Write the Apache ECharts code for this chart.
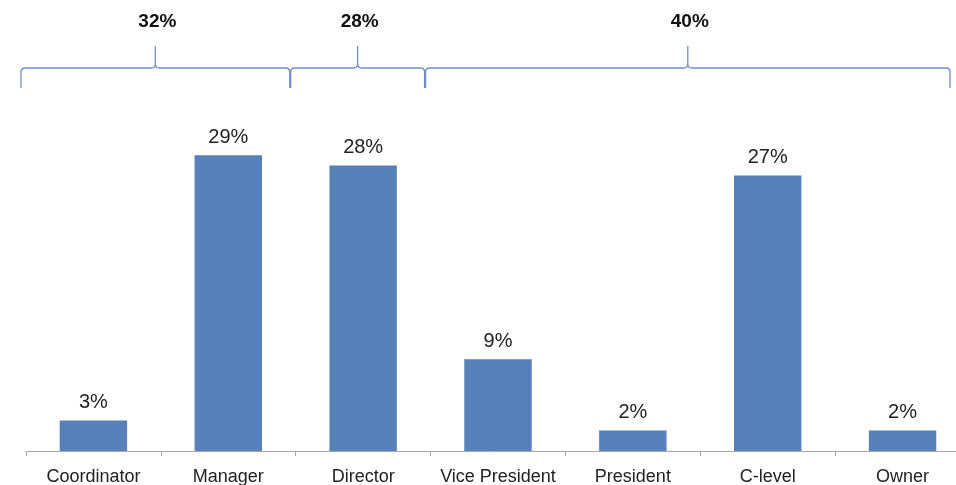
<!DOCTYPE html>
<html>
<head>
<meta charset="utf-8">
<style>
  html, body { margin: 0; padding: 0; background: #fff; }
  #chart { width: 956px; height: 485px; }
</style>
<script src="https://cdn.jsdelivr.net/npm/echarts@6/dist/echarts.min.js"></script>
</head>
<body>
<div id="chart"></div>
<script>
// Share of respondents by job level (%)
const categories = ['Coordinator', 'Manager', 'Director', 'Vice President', 'President', 'C-level', 'Owner'];
const shares = [3, 29, 28, 9, 2, 27, 2];

// Job-level groups shown with braces above the bars (first / last category index)
const groupFirst = [0, 2, 3];
const groupLast = [1, 2, 6];

const groupTotals = groupFirst.map((f, i) =>
  shares.slice(f, groupLast[i] + 1).reduce((a, b) => a + b, 0));
const groupData = groupFirst.map((f, i) => [f, groupLast[i], groupTotals[i]]);

const BAR_COLOR = '#5880b9';
const BRACE_COLOR = '#6f8fc4';
const FONT = 'Liberation Sans, Arial, sans-serif';

// Curly brace spanning a run of categories, with its total above the peak
function renderBrace(params, api) {
  const first = api.value(0), last = api.value(1), total = api.value(2);
  const band = api.size([1, 0])[0];
  const shift = -5;
  let x0 = api.coord([first, 0])[0] - band / 2 + shift;
  let x1 = api.coord([last, 0])[0] + band / 2 + shift - 1;
  x0 = Math.max(x0, 19);
  x1 = Math.min(x1, api.getWidth() - 6);
  const xm = (x0 + x1) / 2;
  const h = 68, b = 88, p = 46, r = 4, q = 4;
  const d =
    `M${x0} ${b} L${x0} ${h + r} Q${x0} ${h} ${x0 + r} ${h} ` +
    `L${xm - q} ${h} Q${xm} ${h} ${xm} ${h - q} L${xm} ${p} ` +
    `M${xm} ${p} L${xm} ${h - q} Q${xm} ${h} ${xm + q} ${h} ` +
    `L${x1 - r} ${h} Q${x1} ${h} ${x1} ${h + r} L${x1} ${b}`;
  return {
    type: 'group',
    children: [
      {
        type: 'path',
        shape: { pathData: d },
        style: { fill: null, stroke: BRACE_COLOR, lineWidth: 1.3 }
      },
      {
        type: 'text',
        x: xm + 2,
        y: 22,
        style: {
          text: total + '%',
          fill: '#111',
          font: 'bold 19px ' + FONT,
          align: 'center',
          verticalAlign: 'middle'
        }
      }
    ]
  };
}

const chart = echarts.init(document.getElementById('chart'));
chart.setOption({
  animation: false,
  backgroundColor: '#fff',
  grid: { left: 26, width: 944, top: 94, bottom: 34, outerBoundsMode: 'none', containLabel: false },
  xAxis: {
    type: 'category',
    data: categories,
    axisLine: { lineStyle: { color: '#a6a6a6', width: 1 } },
    axisTick: { show: true, length: 5, lineStyle: { color: '#a6a6a6' } },
    axisLabel: { color: '#222', fontSize: 18, fontFamily: FONT, margin: 17, interval: 0 }
  },
  yAxis: {
    type: 'value',
    min: 0,
    max: 35,
    show: false,
    splitLine: { show: false }
  },
  series: [
    {
      type: 'bar',
      data: shares,
      barWidth: '50%',
      itemStyle: { color: BAR_COLOR },
      label: {
        show: true,
        position: 'top',
        distance: 8,
        formatter: '{c}%',
        color: '#222',
        fontSize: 20,
        fontFamily: FONT
      }
    },
    {
      type: 'custom',
      clip: false,
      silent: true,
      renderItem: renderBrace,
      encode: { x: 0, y: 2 },
      data: groupData
    }
  ]
});
</script>
</body>
</html>
